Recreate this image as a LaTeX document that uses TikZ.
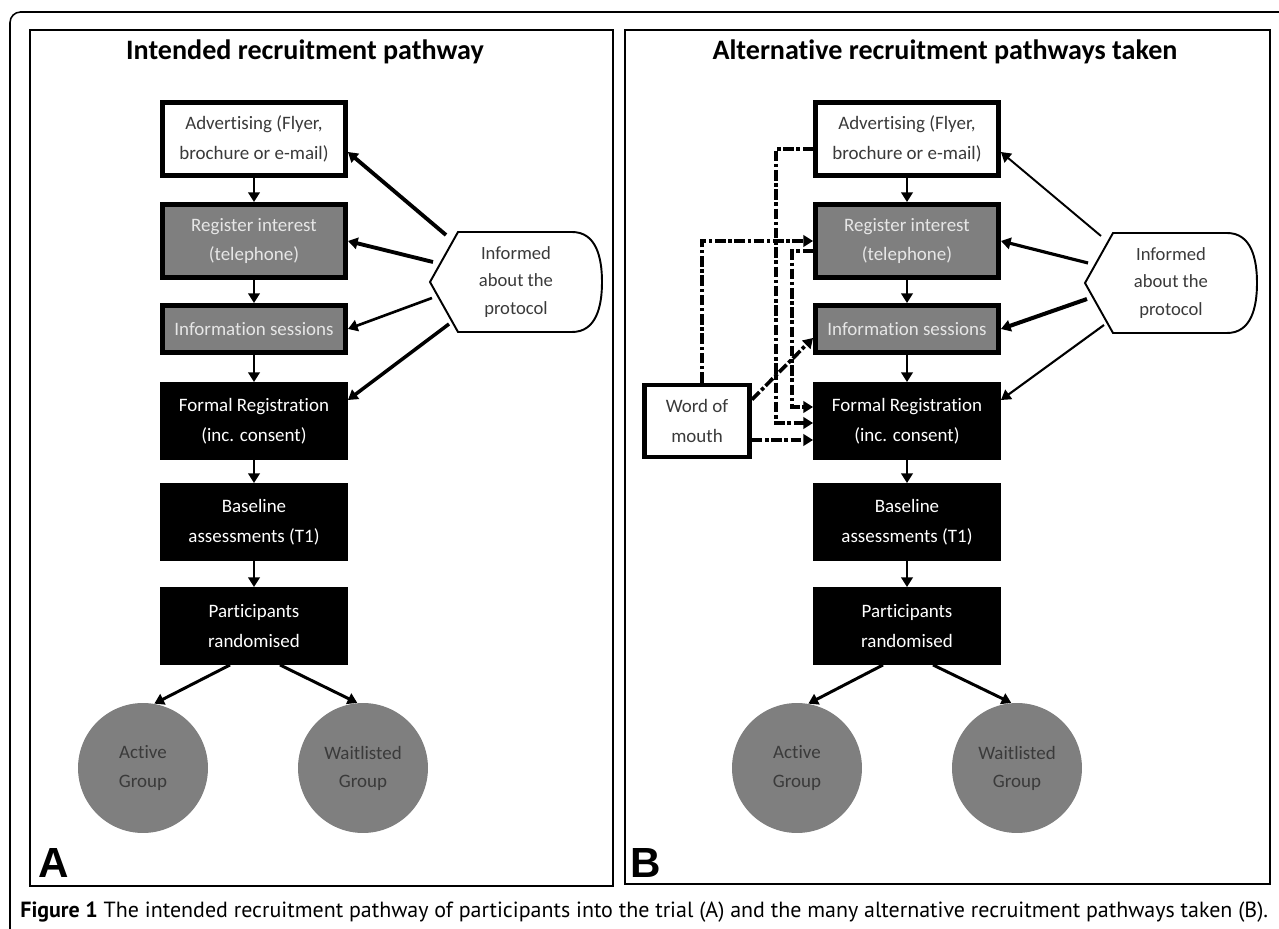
\documentclass[tikz,border=0pt]{standalone}
\usepackage{fontspec}
\usepackage{graphicx}
\setmainfont{Carlito}[Ligatures={NoCommon}]
\newfontfamily\capfont{PT Sans}
\newfontfamily\labfont{Liberation Sans}
\usetikzlibrary{arrows.meta,calc}
\definecolor{boxgray}{HTML}{7F7F7F}
\definecolor{txtdark}{HTML}{3A3A3A}
\definecolor{txtlight}{HTML}{E6E6E6}
\tikzset{
  >={Triangle[length=5.5pt,width=6.5pt]},
  stage/.style={draw=black, line width=2.8pt, minimum width=3.66cm, minimum height=1.46cm,
    align=center, inner sep=0pt, font=\fontsize{10.8}{17}\selectfont},
  whitebox/.style={stage, fill=white, text=txtdark},
  graybox/.style={stage, fill=boxgray, text=txtlight},
  blackbox/.style={stage, fill=black, text=white},
  groupnode/.style={circle, fill=boxgray, minimum size=2.6cm, inner sep=0pt, align=center,
    text=txtdark, font=\fontsize{10.8}{16}\selectfont},
  informed/.style={minimum width=3.4cm, minimum height=2cm, inner sep=0pt, align=center,
    text=txtdark, font=\fontsize{10.6}{15.5}\selectfont},
  paneltitle/.style={font=\fontsize{16}{19}\selectfont\bfseries},
  panellabel/.style={anchor=south west, inner sep=0pt, font=\labfont\bfseries\fontsize{24}{24}\selectfont},
  flowarrow/.style={->, line width=1.4pt},
  altpath/.style={->, line width=2.1pt, dash pattern=on 6pt off 1.5pt on 2pt off 1.5pt},
}
\newcommand{\infoshape}[1]{%
  \draw[line width=1.1pt] ($(#1)+(-86,0)$) -- ($(#1)+(-58,-50)$) -- ($(#1)+(56,-50)$)
    .. controls ($(#1)+(80,-50)$) and ($(#1)+(86,-25)$) .. ($(#1)+(86,0)$)
    .. controls ($(#1)+(86,25)$) and ($(#1)+(80,50)$) .. ($(#1)+(56,50)$)
    -- ($(#1)+(-58,50)$) -- cycle;}
\begin{document}
\begin{tikzpicture}[x=0.02cm, y=-0.02cm]
  \useasboundingbox (0,0) rectangle (1279,929);
  \def\ca{254}
  \def\cb{907}
  % frames
  \draw[line width=0.9pt, rounded corners=6pt] (10,929) -- (10,12) -- (1279,12);
  \draw[line width=1.3pt] (30,30) rectangle (613,886);
  \draw[line width=1.3pt] (625,30) rectangle (1270,884);
  \node[paneltitle] (titA) at (305,52) {Intended recruitment pathway};
  \node[paneltitle] (titB) at (945,52) {Alternative recruitment pathways taken};
  \node[panellabel] (labA) at (38,878) {A};
  \node[panellabel] (labB) at (630,878) {B};

  % panel A
  \node[whitebox] (adA) at (\ca,139) {Advertising (Flyer,\\brochure or e-mail)};
  \node[graybox] (regA) at (\ca,241) {Register interest\\(telephone)};
  \node[graybox, minimum height=0.94cm] (infA) at (\ca,329) {Information sessions};
  \node[blackbox] (forA) at (\ca,421) {Formal Registration\\(inc. consent)};
  \node[blackbox] (basA) at (\ca,522) {Baseline\\assessments (T1)};
  \node[blackbox] (parA) at (\ca,626) {Participants\\randomised};
  \node[groupnode] (actA) at (143,768) {Active\\Group};
  \node[groupnode] (watA) at (363,768) {Waitlisted\\Group};
  \node[informed] (hexA) at (516,282) {Informed\\about the\\protocol};
  \infoshape{hexA}
  \path (adA) edge[flowarrow] (regA);
  \path (regA) edge[flowarrow] (infA);
  \path (infA) edge[flowarrow] (forA);
  \path (forA) edge[flowarrow] (basA);
  \path (basA) edge[flowarrow] (parA);
  \path ($(parA.south)+(-24,0)$) edge[flowarrow, line width=1.7pt] (actA.80);
  \path ($(parA.south)+(26,0)$) edge[flowarrow, line width=1.7pt] (watA.95);
  \path ($(hexA)+(-70,-47)$) edge[flowarrow, line width=2.2pt] ($(adA.east)+(0,13)$);
  \path ($(hexA)+(-83,-20)$) edge[flowarrow, line width=2.2pt] (regA.east);
  \path ($(hexA)+(-84,16)$) edge[flowarrow, line width=1.5pt] (infA.east);
  \path ($(hexA)+(-67,42)$) edge[flowarrow, line width=2pt] ($(forA.east)+(0,-21)$);

  % panel B
  \node[whitebox] (adB) at (\cb,139) {Advertising (Flyer,\\brochure or e-mail)};
  \node[graybox] (regB) at (\cb,241) {Register interest\\(telephone)};
  \node[graybox, minimum height=0.94cm] (infB) at (\cb,329) {Information sessions};
  \node[blackbox] (forB) at (\cb,421) {Formal Registration\\(inc. consent)};
  \node[blackbox] (basB) at (\cb,522) {Baseline\\assessments (T1)};
  \node[blackbox] (parB) at (\cb,626) {Participants\\randomised};
  \node[groupnode] (actB) at (797,768) {Active\\Group};
  \node[groupnode] (watB) at (1017,768) {Waitlisted\\Group};
  \node[informed] (hexB) at (1171,283) {Informed\\about the\\protocol};
  \infoshape{hexB}
  \node[whitebox, minimum width=2.1cm, minimum height=1.44cm] (wom) at (697,421) {Word of\\mouth};
  \path (adB) edge[flowarrow] (regB);
  \path (regB) edge[flowarrow] (infB);
  \path (infB) edge[flowarrow] (forB);
  \path (forB) edge[flowarrow] (basB);
  \path (basB) edge[flowarrow] (parB);
  \path ($(parB.south)+(-24,0)$) edge[flowarrow, line width=1.7pt] (actB.80);
  \path ($(parB.south)+(26,0)$) edge[flowarrow, line width=1.7pt] (watB.95);
  \path ($(hexB)+(-70,-47)$) edge[flowarrow, line width=1.1pt] ($(adB.east)+(0,13)$);
  \path ($(hexB)+(-83,-20)$) edge[flowarrow, line width=1.8pt] (regB.east);
  \path ($(hexB)+(-84,16)$) edge[flowarrow, line width=2.3pt] (infB.east);
  \path ($(hexB)+(-67,42)$) edge[flowarrow, line width=1.2pt] ($(forB.east)+(0,-21)$);
  % word of mouth routes
  \draw[altpath] ($(wom.north)+(5,0)$) |- (regB.west);
  \draw[altpath] ($(adB.west)+(0,10)$) -- ++(-37,0) |- ($(forB.west)+(0,2)$);
  \draw[altpath] ($(regB.west)+(0,10)$) -- ++(-21,0) |- ($(forB.west)+(0,-14)$);
  \draw[altpath] ($(wom.north east)+(0,17)$) -- ($(infB.south west)+(0,-17)$);
  \draw[altpath] ($(wom.east)+(0,19)$) -- ($(forB.west)+(0,19)$);

  \node[anchor=base west, inner sep=0pt] (cap) at (20,917)
    {\resizebox{24.96cm}{!}{\capfont\textbf{Figure 1} The intended recruitment pathway of participants into the trial (A) and the many alternative recruitment pathways taken (B).}};
\end{tikzpicture}
\end{document}
